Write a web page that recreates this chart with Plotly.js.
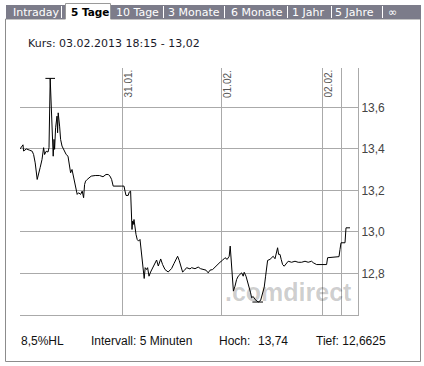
<!DOCTYPE html>
<html><head><meta charset="utf-8">
<script src="https://cdn.plot.ly/plotly-3.0.1.min.js"></script>
<style>html,body{margin:0;padding:0;background:#fff;}#chart{width:424px;height:366px;}</style>
</head><body><div id="chart"></div>
<script>
// ---- data ----
const tabs = ["Intraday","5 Tage","10 Tage","3 Monate","6 Monate","1 Jahr","5 Jahre","\u221E"];
const activeTab = "5 Tage";
const dayStarts = [51, 100.75, 151, 160.5];          // time index of day boundaries
const dayLabels = ["31.01.", "01.02.", "02.02.", ""];
const yTicks = [12.8, 13.0, 13.2, 13.4, 13.6];
const kursText = "Kurs: 03.02.2013 18:15 - 13,02";
const infoTexts = ["8,5%HL", "Intervall: 5 Minuten", "Hoch:", "13,74", "Tief: 12,6625"];

// 30.01.
const t1 = [0,1,1.5,1.8,3.2,4.8,6.1,6.8,7.6,8.6,9.3,10.1,11,11.8,12.3,13.1,14,14.5,15.1,15.6,16,16.3,16.6,17,17.3,17.8,18.5,18.8,19.1,19.8,20.3,21,21.8,22.3,23.1,24,24.8,25.3,26,26.5,27.3,28.1,28.6,29.3,30.3,31.1,31.8,32.3,32.8,33.6,35.6,37.6,39.8,41.5,43,44.1,45,45.8,46.6,50.8];
const v1 = [13.40,13.41,13.42,13.39,13.40,13.394,13.389,13.373,13.333,13.253,13.277,13.311,13.349,13.406,13.373,13.389,13.385,13.406,13.74,13.639,13.51,13.478,13.365,13.446,13.398,13.502,13.558,13.478,13.574,13.51,13.446,13.414,13.398,13.382,13.373,13.365,13.317,13.285,13.301,13.277,13.253,13.205,13.181,13.189,13.181,13.197,13.165,13.229,13.245,13.253,13.269,13.272,13.272,13.266,13.277,13.277,13.269,13.253,13.221,13.221];
// 31.01.
const t2 = [52,52.5,53,54.1,54.6,55.3,55.6,56,56.3,56.6,57,57.5,58,58.6,59.3,60,60.3,60.8,61.3,61.8,62.1,62.6,63.3,63.8,64.5,65.3,66.3,67.5,68.3,69.15,70.35,71.3,72.5,74.1,75.8,77,78,78.8,79.6,80.5,81.3,82.1,83.3,85,85.8,87.5,89.1,90.3,91.6,93,94.1,95,96.3,97.5,98.6,100];
const v2 = [13.221,13.197,13.176,13.176,13.192,13.197,13.141,13.012,13.052,13.036,13.06,13.004,12.988,12.964,12.956,12.964,12.94,12.883,12.835,12.819,12.776,12.828,12.819,12.828,12.787,12.807,12.828,12.848,12.865,12.836,12.87,12.843,12.819,12.807,12.824,12.848,12.868,12.883,12.863,12.828,12.807,12.814,12.828,12.822,12.828,12.823,12.831,12.823,12.819,12.816,12.803,12.816,12.819,12.832,12.843,12.854];
// 01.02.
const t3 = [101.3,102.5,103.6,104.6,105.1,105.5,106.1,106.7,107.5,108.3,109.1,110,110.8,111.6,112.1,113,113.8,114.6,115.3,115.8,116.6,117.5,118.3,119.1,120.3,121.1,122.1,122.8,123.3,123.8,125,125.8,126.6,127.5,128.3,128.8,129.3,130,130.6,131.3,132.1,133.3,134.1,135.8,137.5,139.1,140.8,142.5,144.1,145.8,146.6,148.3];
const v3 = [12.864,12.876,12.868,12.883,12.932,12.868,12.819,12.715,12.739,12.771,12.787,12.795,12.803,12.787,12.806,12.787,12.763,12.733,12.707,12.683,12.689,12.675,12.67,12.6625,12.67,12.704,12.733,12.787,12.835,12.863,12.868,12.876,12.883,12.871,12.907,12.924,12.892,12.892,12.868,12.843,12.835,12.852,12.859,12.854,12.859,12.854,12.854,12.859,12.854,12.859,12.852,12.843];
// 02.02. / 03.02.
const t4 = [153.3,153.8,159.5,160,160.5,162.5,163,165];
const v4 = [12.843,12.876,12.881,12.916,12.948,12.948,13.02,13.02];

const t = t1.concat(t2, t3, t4);
const kurs = v1.concat(v2, v3, v4);

// ---- layout helpers ----
const W = 424, H = 366, L = 20, R = 358, T = 68, B = 315;
const X = px => (px - L) / (R - L);
const Y = py => (B - py) / (B - T);

const hi = Math.max(...kurs), lo = Math.min(...kurs);
const hiT = t[kurs.indexOf(hi)], loT = t[kurs.indexOf(lo)];

const traces = [
  {x: t, y: kurs, mode: 'lines', line: {color: '#000', width: 1}, hoverinfo: 'skip'},
  {x: [hiT - 2.4, hiT + 2.4], y: [hi, hi], mode: 'lines', line: {color: '#000', width: 1}, hoverinfo: 'skip'},
  {x: [loT - 2.9, loT + 2.4], y: [lo, lo], mode: 'lines', line: {color: '#000', width: 1}, hoverinfo: 'skip'}
];

const shapes = [];
const annotations = [];
const sans = 'Liberation Sans, Arial, sans-serif';
const verd = 'DejaVu Sans, Verdana, sans-serif';

// frame
shapes.push({type: 'rect', xref: 'paper', yref: 'paper', x0: X(5.5), x1: X(420.5), y0: Y(361.5), y1: Y(19), line: {color: '#8c8c8c', width: 1}, fillcolor: 'rgba(0,0,0,0)'});
// tab bar
shapes.push({type: 'rect', xref: 'paper', yref: 'paper', x0: X(6), x1: X(421), y0: Y(19), y1: Y(5), line: {width: 0}, fillcolor: '#7c7c8a'});
// active tab
shapes.push({type: 'rect', xref: 'paper', yref: 'paper', x0: X(65.5), x1: X(110.5), y0: Y(20), y1: Y(3.5), line: {width: 0}, fillcolor: '#ffffff'});
shapes.push({type: 'path', xref: 'paper', yref: 'paper', path: `M${X(65.5)},${Y(19)} L${X(65.5)},${Y(3.5)} L${X(110.5)},${Y(3.5)} L${X(110.5)},${Y(19)}`, line: {color: '#9a9a9a', width: 1}});
// separators
[61.5, 163.5, 224.5, 287.5, 331.5, 382.5].forEach(sx => {
  shapes.push({type: 'line', xref: 'paper', yref: 'paper', x0: X(sx), x1: X(sx), y0: Y(6), y1: Y(18), line: {color: '#ffffff', width: 1}});
});
// tab labels
const tabX = [11, 69, 114, 166, 229, 290, 333, 386];
tabs.forEach((s, i) => {
  const act = s === activeTab;
  annotations.push({xref: 'paper', yref: 'paper', x: X(tabX[i]), y: Y(12.5), xanchor: 'left', yanchor: 'middle', showarrow: false,
    text: act ? '<b>' + s + '</b>' : s, font: {family: verd, size: act ? 10.5 : 11, color: act ? '#000' : '#ffffff'}});
});
// Kurs
annotations.push({xref: 'paper', yref: 'paper', x: X(26), y: Y(44), xanchor: 'left', yanchor: 'middle', showarrow: false,
  text: kursText, font: {family: verd, size: 11, color: '#1a1a2a'}});
// info line
const infoX = [19, 89, 217, 256, 314];
infoTexts.forEach((s, i) => {
  annotations.push({xref: 'paper', yref: 'paper', x: X(infoX[i]), y: Y(341), xanchor: 'left', yanchor: 'middle', showarrow: false,
    text: s, font: {family: sans, size: 12, color: '#111'}});
});
// date labels
dayStarts.forEach((d, i) => {
  if (!dayLabels[i]) return;
  annotations.push({xref: 'x', yref: 'paper', x: d, y: 1, xanchor: 'left', yanchor: 'top', showarrow: false, textangle: -90,
    text: dayLabels[i], font: {family: sans, size: 10, color: '#555'}, xshift: -2});
});
// watermark (translucent so the price line stays black where it crosses it)
annotations.push({xref: 'paper', yref: 'paper', x: X(288.5), y: Y(292), xanchor: 'center', yanchor: 'middle', showarrow: false,
  text: '.comdirect', font: {family: 'Liberation Sans, Arial, sans-serif', size: 25, weight: 'bold', color: 'rgba(0,0,0,0.2)'}});

const layout = {
  width: W, height: H,
  margin: {l: L, r: W - R, t: T, b: H - B, pad: 0},
  paper_bgcolor: '#ffffff', plot_bgcolor: '#ffffff',
  separators: ',.',
  showlegend: false,
  xaxis: {range: [0, 169], tickvals: dayStarts, showticklabels: false, showgrid: true, gridcolor: '#aaaaaa', gridwidth: 1,
    showline: true, linecolor: '#aaaaaa', linewidth: 1, ticks: '', zeroline: false, fixedrange: true},
  yaxis: {side: 'right', range: [12.6, 13.79], tickvals: yTicks, tickformat: '.1f', showgrid: true, gridcolor: '#aaaaaa', gridwidth: 1,
    showline: true, linecolor: '#aaaaaa', linewidth: 1, ticks: '', zeroline: false, fixedrange: true,
    tickfont: {family: sans, size: 12, color: '#444'}},
  shapes: shapes,
  annotations: annotations
};

Plotly.newPlot('chart', traces, layout, {staticPlot: true, displayModeBar: false});
</script>
</body></html>
